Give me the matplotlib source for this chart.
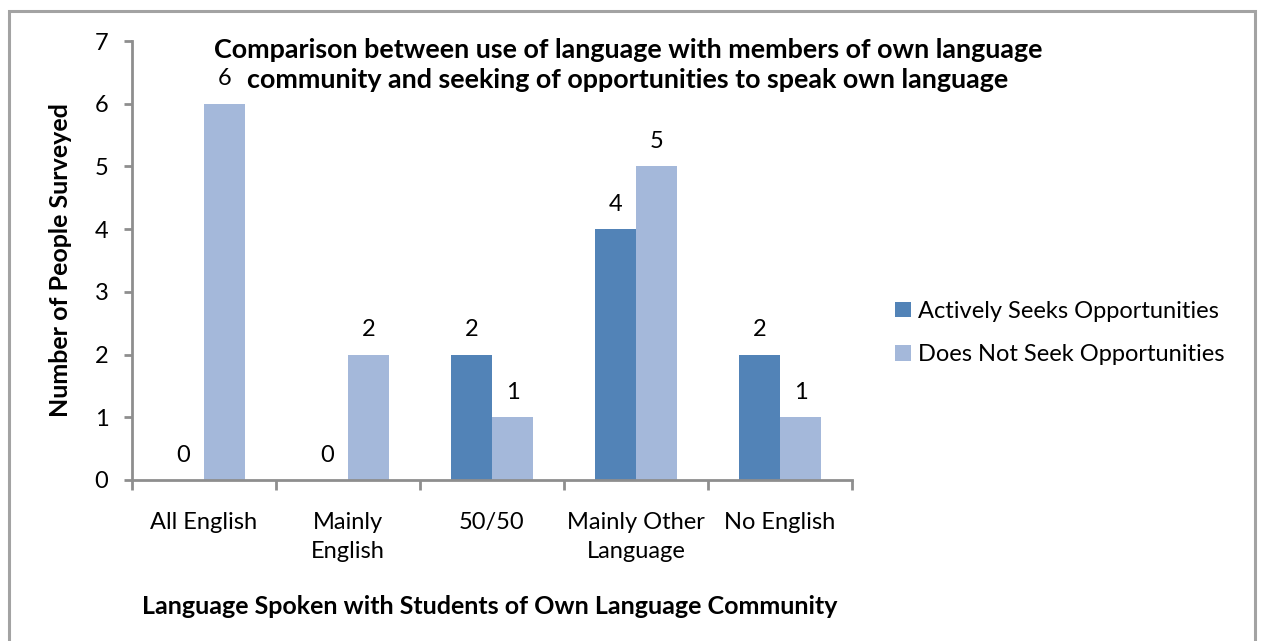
import matplotlib.pyplot as plt
import numpy as np
from matplotlib.patches import Rectangle

plt.rcParams["font.family"] = ["Lato", "DejaVu Sans"]

categorias = ["All English", "Mainly\nEnglish", "50/50", "Mainly Other\nLanguage", "No English"]
ativos = [0, 0, 2, 4, 2]
nao_ativos = [6, 2, 1, 5, 1]
series = ["Actively Seeks Opportunities", "Does Not Seek Opportunities"]
titulo = ["Comparison between use of language with members of own language",
          "community and seeking of opportunities to speak own language"]

cor_escura = "#5283B7"
cor_clara = "#A4B8DA"
cor_eixo = "#8E8E8E"
fs = 17

W, H = 1261, 641
fig = plt.figure(figsize=(W / 100, H / 100), dpi=100)
ax = fig.add_axes([132 / W, (H - 480) / H, (852 - 132) / W, (480 - 41) / H])

# moldura do gráfico
fig.patches.append(Rectangle((9 / W, -0.1), (1255 - 9) / W, 1.1 - 10.5 / H,
                             transform=fig.transFigure, fill=False,
                             edgecolor="#A3A3A3", linewidth=2.2))

x = np.arange(len(categorias))
largura = 1 / 3.5
b1 = ax.bar(x - largura / 2, ativos, largura, color=cor_escura, label=series[0])
b2 = ax.bar(x + largura / 2, nao_ativos, largura, color=cor_clara, label=series[1])

for barras, valores in [(b1, ativos), (b2, nao_ativos)]:
    for barra, v in zip(barras, valores):
        ax.annotate(str(v), (barra.get_x() + barra.get_width() / 2, v),
                    xytext=(0, 18), textcoords="offset points",
                    ha="center", va="center", fontsize=fs)

ax.set_xlim(-0.5, len(categorias) - 0.5)
ax.set_ylim(0, 7)
ax.set_yticks(range(8))
ax.set_xticks(np.arange(-0.5, len(categorias)), [""] * (len(categorias) + 1))
ax.set_xticks(x, categorias, minor=True)

ax.tick_params(axis="y", direction="out", length=6, width=2, color=cor_eixo,
               labelsize=fs, pad=11)
ax.tick_params(axis="x", which="major", direction="out", length=7, width=2, color=cor_eixo)
ax.tick_params(axis="x", which="minor", length=0, labelsize=fs, pad=23)
for lbl in ax.get_xticklabels(minor=True):
    lbl.set_verticalalignment("top")
    lbl.set_linespacing(1.45)

for lado in ["top", "right"]:
    ax.spines[lado].set_visible(False)
for lado in ["left", "bottom"]:
    ax.spines[lado].set_color(cor_eixo)
    ax.spines[lado].set_linewidth(2)

# título em duas linhas, cada uma centralizada
for i, linha in enumerate(titulo):
    fig.text(628 / W, 1 - (58 + 30 * i) / H, linha, ha="center", va="baseline",
             fontsize=19.4, fontweight="bold")
fig.text(61 / W, 1 - 260 / H, "Number of People Surveyed", rotation=90,
         ha="center", va="center", fontsize=18, fontweight="bold")
fig.text(490 / W, 1 - 606 / H, "Language Spoken with Students of Own Language Community",
         ha="center", va="center", fontsize=18, fontweight="bold")

fig.legend(loc="center left", bbox_to_anchor=(886 / W, 1 - 333 / H), frameon=False,
           fontsize=fs, handlelength=0.64, handleheight=0.64, handletextpad=0.3,
           labelspacing=0.95, borderaxespad=0)

fig.savefig("out.png", dpi=100)
